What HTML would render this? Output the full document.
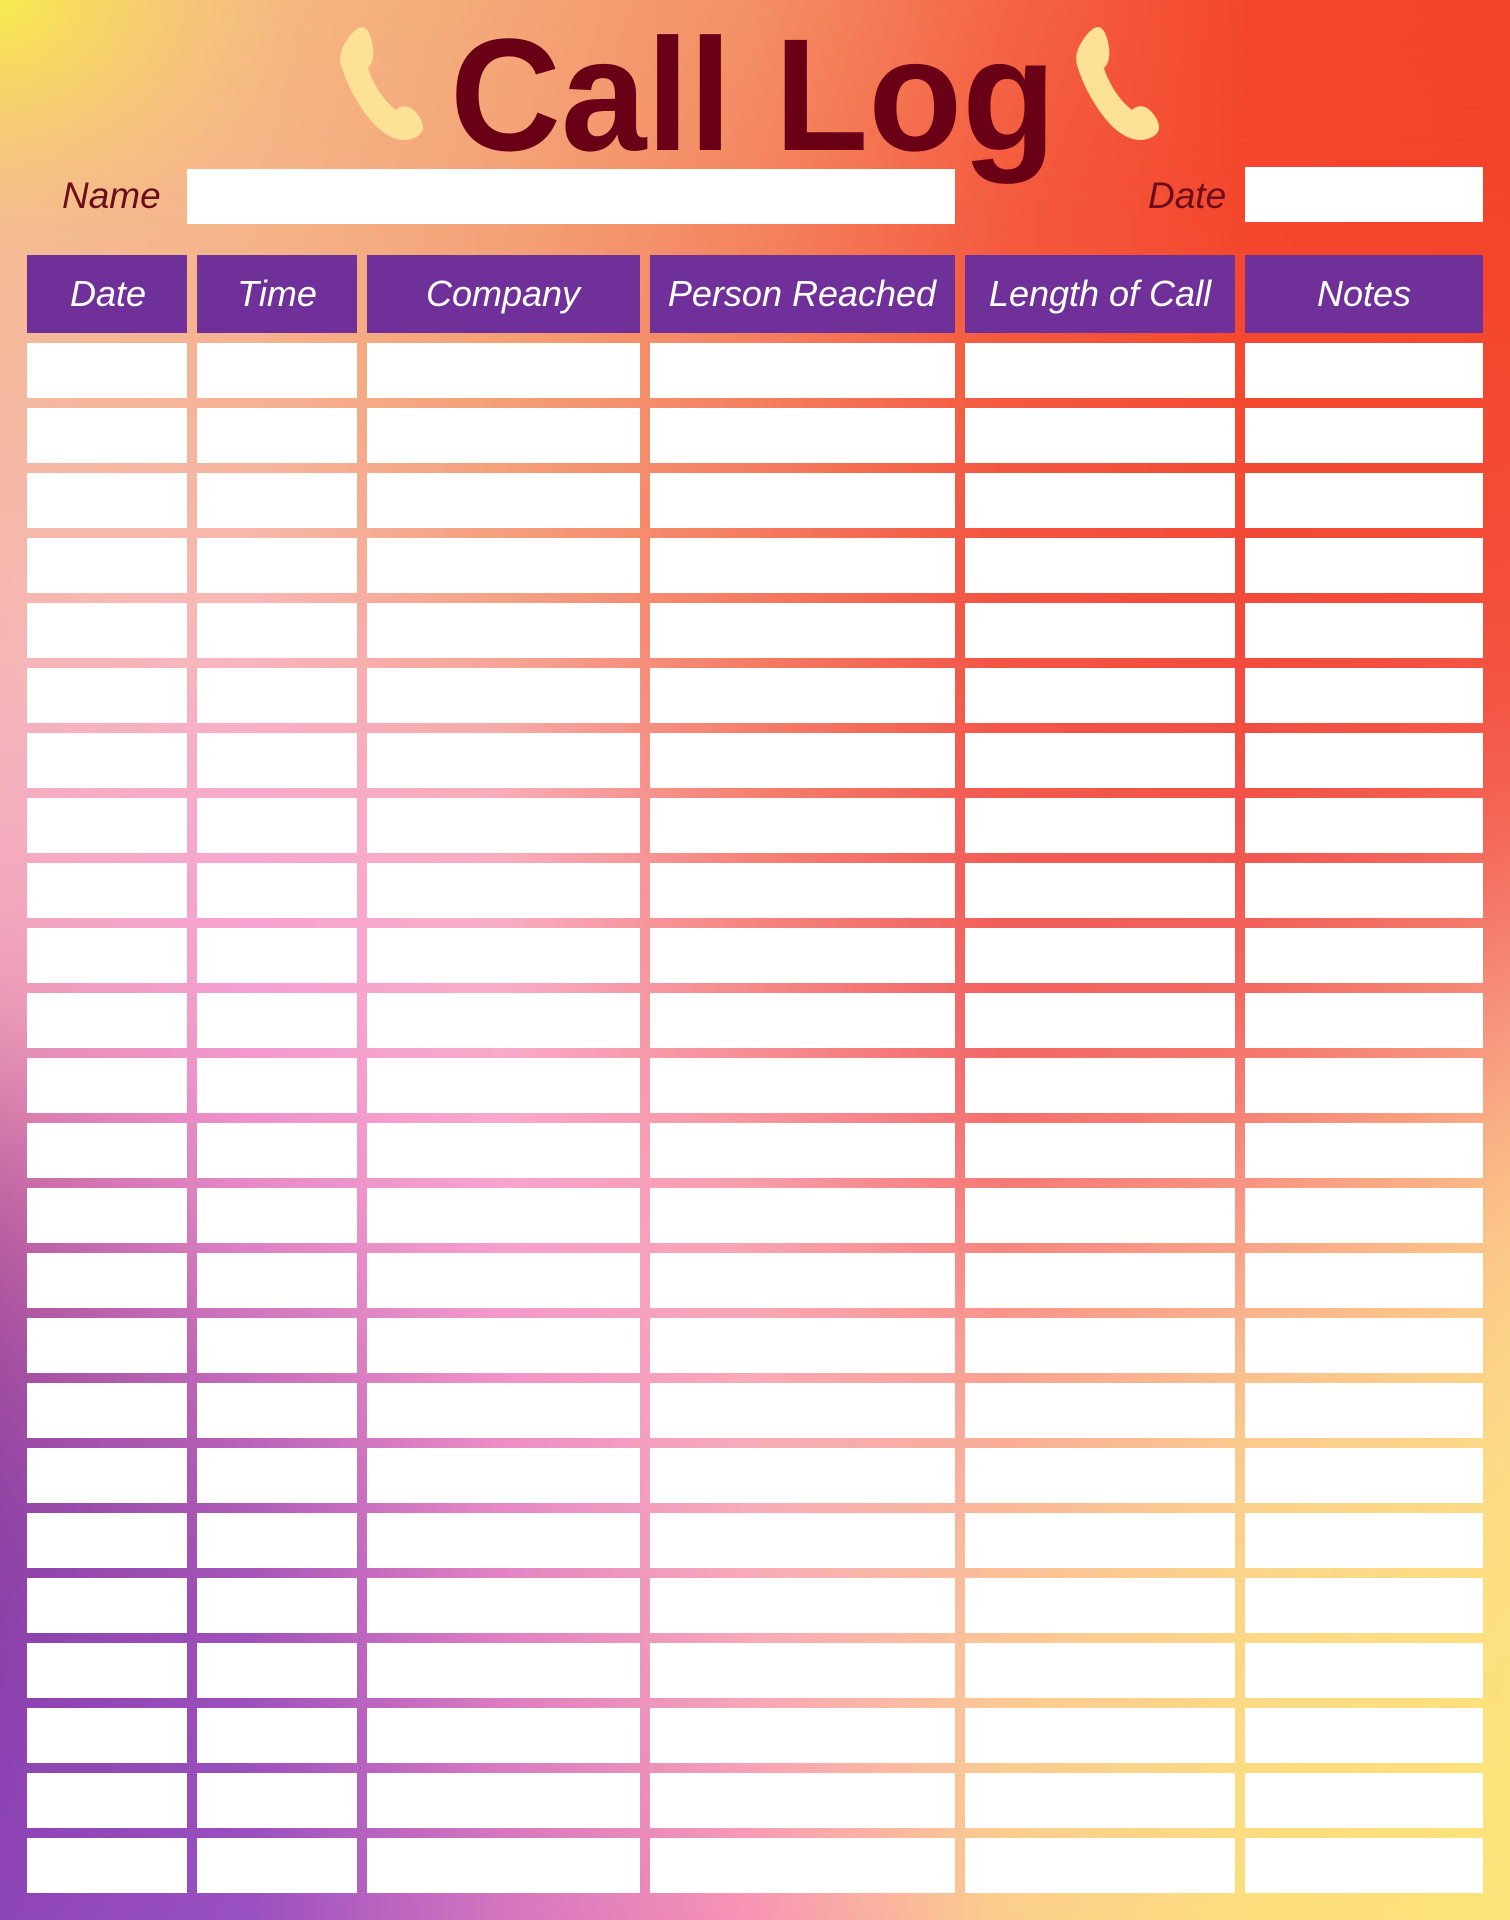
<!DOCTYPE html>
<html>
<head>
<meta charset="utf-8">
<style>
  html, body { margin: 0; padding: 0; background: #f4a070; width: 1510px; height: 1920px; overflow: hidden; }
  svg { display: block; }
  .lbl { font-family: "Liberation Sans", sans-serif; font-style: italic; }
</style>
</head>
<body>
<svg width="1510" height="1920" viewBox="0 0 1510 1920" xmlns="http://www.w3.org/2000/svg" overflow="hidden">
  <defs>
    <linearGradient id="r0" x1="0" x2="1510" gradientUnits="userSpaceOnUse">
      <stop offset="0" stop-color="#f6c878"/><stop offset="0.166" stop-color="#f5bc80"/><stop offset="0.331" stop-color="#f4a878"/><stop offset="0.497" stop-color="#f49468"/><stop offset="0.662" stop-color="#f46a48"/><stop offset="0.828" stop-color="#f4462c"/><stop offset="1" stop-color="#f4422a"/>
    </linearGradient>
    <linearGradient id="r1" x1="0" x2="1510" gradientUnits="userSpaceOnUse">
      <stop offset="0" stop-color="#f4bc90"/><stop offset="0.166" stop-color="#f5b488"/><stop offset="0.331" stop-color="#f4a278"/><stop offset="0.497" stop-color="#f48460"/><stop offset="0.662" stop-color="#f45a3e"/><stop offset="0.828" stop-color="#f4462c"/><stop offset="1" stop-color="#f4422a"/>
    </linearGradient>
    <linearGradient id="r2" x1="0" x2="1510" gradientUnits="userSpaceOnUse">
      <stop offset="0" stop-color="#f4b8a0"/><stop offset="0.166" stop-color="#f6b090"/><stop offset="0.331" stop-color="#f4a074"/><stop offset="0.497" stop-color="#f48060"/><stop offset="0.662" stop-color="#f45a40"/><stop offset="0.828" stop-color="#f44a30"/><stop offset="1" stop-color="#f44a30"/>
    </linearGradient>
    <linearGradient id="r3" x1="0" x2="1510" gradientUnits="userSpaceOnUse">
      <stop offset="0" stop-color="#f6b8b0"/><stop offset="0.166" stop-color="#f8bcb8"/><stop offset="0.331" stop-color="#f4a080"/><stop offset="0.497" stop-color="#f47a60"/><stop offset="0.662" stop-color="#f25040"/><stop offset="0.828" stop-color="#f24a3a"/><stop offset="1" stop-color="#f44c3a"/>
    </linearGradient>
    <linearGradient id="r4" x1="0" x2="1510" gradientUnits="userSpaceOnUse">
      <stop offset="0" stop-color="#f4b0c0"/><stop offset="0.166" stop-color="#f8a8d0"/><stop offset="0.331" stop-color="#f8b0c0"/><stop offset="0.497" stop-color="#f58070"/><stop offset="0.662" stop-color="#f25a50"/><stop offset="0.828" stop-color="#f05048"/><stop offset="1" stop-color="#f46050"/>
    </linearGradient>
    <linearGradient id="r5" x1="0" x2="1510" gradientUnits="userSpaceOnUse">
      <stop offset="0" stop-color="#f0a0b8"/><stop offset="0.166" stop-color="#f6a0d4"/><stop offset="0.331" stop-color="#f8acc8"/><stop offset="0.497" stop-color="#f58888"/><stop offset="0.662" stop-color="#f06060"/><stop offset="0.828" stop-color="#f26a62"/><stop offset="1" stop-color="#f69080"/>
    </linearGradient>
    <linearGradient id="r6" x1="0" x2="1510" gradientUnits="userSpaceOnUse">
      <stop offset="0" stop-color="#c060a0"/><stop offset="0.166" stop-color="#e888c8"/><stop offset="0.331" stop-color="#f8a4d0"/><stop offset="0.497" stop-color="#f8a0b0"/><stop offset="0.662" stop-color="#f67a78"/><stop offset="0.828" stop-color="#f89888"/><stop offset="1" stop-color="#fcc488"/>
    </linearGradient>
    <linearGradient id="r7" x1="0" x2="1510" gradientUnits="userSpaceOnUse">
      <stop offset="0" stop-color="#9a4aa0"/><stop offset="0.166" stop-color="#c068b8"/><stop offset="0.331" stop-color="#f090c8"/><stop offset="0.497" stop-color="#f8acb8"/><stop offset="0.662" stop-color="#f9a898"/><stop offset="0.828" stop-color="#fbc890"/><stop offset="1" stop-color="#fcd888"/>
    </linearGradient>
    <linearGradient id="r8" x1="0" x2="1510" gradientUnits="userSpaceOnUse">
      <stop offset="0" stop-color="#8a40a8"/><stop offset="0.166" stop-color="#a050b8"/><stop offset="0.331" stop-color="#e080c4"/><stop offset="0.497" stop-color="#f8acb8"/><stop offset="0.662" stop-color="#fbc498"/><stop offset="0.828" stop-color="#fcd888"/><stop offset="1" stop-color="#fde080"/>
    </linearGradient>
    <linearGradient id="r9" x1="0" x2="1510" gradientUnits="userSpaceOnUse">
      <stop offset="0" stop-color="#8c42b4"/><stop offset="0.166" stop-color="#9a50c0"/><stop offset="0.331" stop-color="#d878c0"/><stop offset="0.497" stop-color="#f8a0b8"/><stop offset="0.662" stop-color="#fbcc90"/><stop offset="0.828" stop-color="#fcdc80"/><stop offset="1" stop-color="#fde27a"/>
    </linearGradient>
    <linearGradient id="r10" x1="0" x2="1510" gradientUnits="userSpaceOnUse">
      <stop offset="0" stop-color="#9048b8"/><stop offset="0.166" stop-color="#9850c0"/><stop offset="0.331" stop-color="#d070c0"/><stop offset="0.497" stop-color="#f888b0"/><stop offset="0.662" stop-color="#fbd088"/><stop offset="0.828" stop-color="#fde07a"/><stop offset="1" stop-color="#fde478"/>
    </linearGradient>
    <radialGradient id="yel" cx="0" cy="0" r="300" gradientUnits="userSpaceOnUse" gradientTransform="scale(1 0.8)">
      <stop offset="0" stop-color="#f8ec50" stop-opacity="1"/>
      <stop offset="0.25" stop-color="#f8e058" stop-opacity="0.8"/>
      <stop offset="1" stop-color="#f6c878" stop-opacity="0"/>
    </radialGradient>
    <filter id="vb" filterUnits="userSpaceOnUse" x="0" y="0" width="1510" height="1920" color-interpolation-filters="sRGB">
      <feGaussianBlur stdDeviation="0 90" result="b"/>
      <feComponentTransfer in="b">
        <feFuncA type="linear" slope="0" intercept="1"/>
      </feComponentTransfer>
    </filter>
    <g id="row">
      <rect x="27" y="0" width="160" height="55" fill="#fff"/>
      <rect x="197" y="0" width="160" height="55" fill="#fff"/>
      <rect x="367" y="0" width="273" height="55" fill="#fff"/>
      <rect x="650" y="0" width="305" height="55" fill="#fff"/>
      <rect x="965" y="0" width="270" height="55" fill="#fff"/>
      <rect x="1245" y="0" width="238" height="55" fill="#fff"/>
    </g>
    <path id="phone" d="M343,47 C348,37 356,27 362,27 C368,27 372,38 373,48 C374,56 373,63 368,68 C372,82 383,100 396,110 C400,106 406,105 411,108 C418,113 424,122 423,129 C421,136 413,140 404,140 C395,140 385,135 376,126 C362,112 348,88 342,68 C339,60 340,53 343,47 Z"/>
  </defs>

  <!-- fallback base -->
  <rect x="0" y="0" width="1510" height="1920" fill="#f4a07a"/>
  <!-- background mesh -->
  <g filter="url(#vb)">
    <rect x="0" y="0" width="1510" height="100" fill="url(#r0)"/>
    <rect x="0" y="100" width="1510" height="200" fill="url(#r1)"/>
    <rect x="0" y="300" width="1510" height="200" fill="url(#r2)"/>
    <rect x="0" y="500" width="1510" height="200" fill="url(#r3)"/>
    <rect x="0" y="700" width="1510" height="200" fill="url(#r4)"/>
    <rect x="0" y="900" width="1510" height="200" fill="url(#r5)"/>
    <rect x="0" y="1100" width="1510" height="200" fill="url(#r6)"/>
    <rect x="0" y="1300" width="1510" height="200" fill="url(#r7)"/>
    <rect x="0" y="1500" width="1510" height="200" fill="url(#r8)"/>
    <rect x="0" y="1700" width="1510" height="160" fill="url(#r9)"/>
    <rect x="0" y="1860" width="1510" height="60" fill="url(#r10)"/>
  </g>
  <rect x="0" y="0" width="1510" height="1920" fill="url(#yel)"/>

  <!-- title -->
  <use href="#phone" fill="#fde196"/>
  <use href="#phone" fill="#fde196" transform="translate(736,0)"/>
  <text x="450" y="150" font-family="'Liberation Sans', sans-serif" font-weight="bold" font-size="160" fill="#690016" textLength="606" lengthAdjust="spacingAndGlyphs">Call Log</text>

  <!-- name/date -->
  <text class="lbl" x="62" y="208" font-size="37" fill="#6b0d1c">Name</text>
  <rect x="187" y="169" width="768" height="55" fill="#fff"/>
  <text class="lbl" x="1148" y="208" font-size="37" fill="#6b0d1c">Date</text>
  <rect x="1245" y="167" width="238" height="55" fill="#fff"/>

  <!-- header -->
  <g fill="#6f3199">
    <rect x="27" y="255" width="160" height="78"/>
    <rect x="197" y="255" width="160" height="78"/>
    <rect x="367" y="255" width="273" height="78"/>
    <rect x="650" y="255" width="305" height="78"/>
    <rect x="965" y="255" width="270" height="78"/>
    <rect x="1245" y="255" width="238" height="78"/>
  </g>
  <g class="lbl" font-size="36" fill="#ffffff" text-anchor="middle">
    <text x="108" y="306">Date</text>
    <text x="277" y="306">Time</text>
    <text x="503" y="306">Company</text>
    <text x="802" y="306">Person Reached</text>
    <text x="1100" y="306">Length of Call</text>
    <text x="1364" y="306">Notes</text>
  </g>

  <!-- rows -->
  <use href="#row" y="343"/>
  <use href="#row" y="408"/>
  <use href="#row" y="473"/>
  <use href="#row" y="538"/>
  <use href="#row" y="603"/>
  <use href="#row" y="668"/>
  <use href="#row" y="733"/>
  <use href="#row" y="798"/>
  <use href="#row" y="863"/>
  <use href="#row" y="928"/>
  <use href="#row" y="993"/>
  <use href="#row" y="1058"/>
  <use href="#row" y="1123"/>
  <use href="#row" y="1188"/>
  <use href="#row" y="1253"/>
  <use href="#row" y="1318"/>
  <use href="#row" y="1383"/>
  <use href="#row" y="1448"/>
  <use href="#row" y="1513"/>
  <use href="#row" y="1578"/>
  <use href="#row" y="1643"/>
  <use href="#row" y="1708"/>
  <use href="#row" y="1773"/>
  <use href="#row" y="1838"/>
</svg>
</body>
</html>
